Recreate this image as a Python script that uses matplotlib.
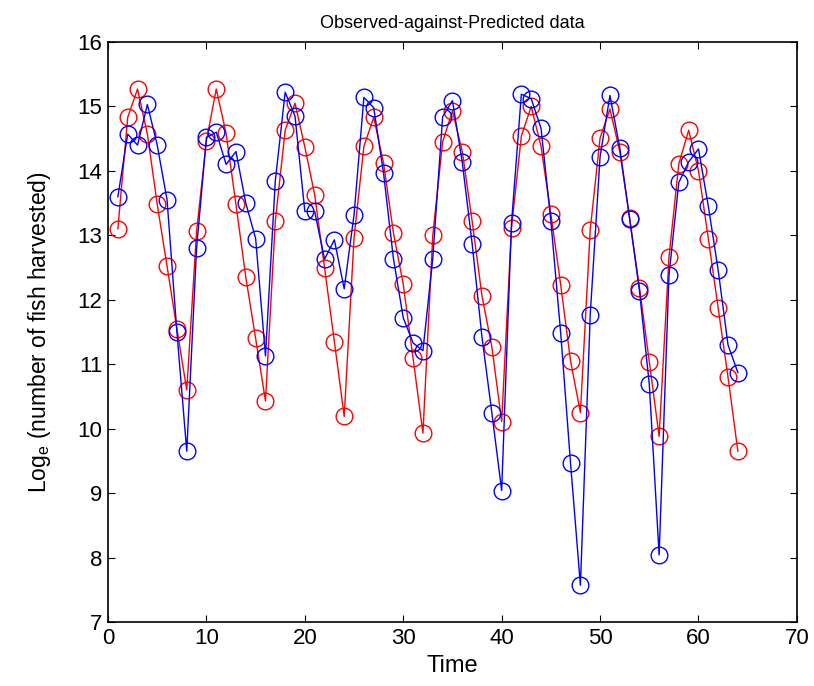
import matplotlib
matplotlib.use("Agg")
import matplotlib.pyplot as plt
from matplotlib import font_manager

fams = {f.name for f in font_manager.fontManager.ttflist}
fam = ['Liberation Sans Narrow', 'Liberation Sans', 'DejaVu Sans'] if 'Liberation Sans Narrow' in fams else ['Liberation Sans', 'DejaVu Sans']
plt.rcParams['font.family'] = fam
plt.rcParams['mathtext.fontset'] = 'custom'
plt.rcParams['mathtext.rm'] = fam[0]

time = list(range(1, 65))
observed = [13.6, 14.57, 14.4, 15.03, 14.4, 13.55, 11.5, 9.65, 12.8, 14.52,
            14.6, 14.1, 14.3, 13.5, 12.95, 11.13, 13.85, 15.22, 14.85, 13.37,
            13.37, 12.63, 12.93, 12.17, 13.32, 15.14, 14.98, 13.96, 12.64, 11.72,
            11.33, 11.21, 12.64, 14.84, 15.09, 14.13, 12.87, 11.42, 10.25, 9.04,
            13.19, 15.19, 15.12, 14.66, 13.22, 11.48, 9.46, 7.57, 11.77, 14.22,
            15.17, 14.36, 13.26, 12.14, 10.69, 8.04, 12.38, 13.82, 14.14, 14.34,
            13.45, 12.46, 11.3, 10.87]
predicted = [13.1, 14.83, 15.27, 14.57, 13.48, 12.52, 11.55, 10.6, 13.06, 14.47,
             15.27, 14.58, 13.48, 12.35, 11.4, 10.43, 13.22, 14.63, 15.05, 14.37,
             13.63, 12.5, 11.35, 10.19, 12.96, 14.38, 14.83, 14.12, 13.04, 12.24,
             11.09, 9.93, 13.0, 14.45, 14.93, 14.3, 13.22, 12.06, 11.27, 10.11,
             13.12, 14.54, 15.0, 14.38, 13.33, 12.23, 11.05, 10.25, 13.09, 14.51,
             14.96, 14.3, 13.27, 12.19, 11.04, 9.88, 12.66, 14.11, 14.63, 14.0,
             12.95, 11.87, 10.8, 9.65]

fig = plt.figure(figsize=(8.14, 6.86), dpi=100)
ax = fig.add_axes([0.1327, 0.0933, 0.8463, 0.8455])
ax.plot(time, predicted, color='red', marker='o', markersize=12, markerfacecolor='none',
        markeredgewidth=1.0, linewidth=1.0)
ax.plot(time, observed, color='blue', marker='o', markersize=12, markerfacecolor='none',
        markeredgewidth=1.0, linewidth=1.0)

ax.set_xlim(0, 70)
ax.set_ylim(7, 16)
ax.set_xticks(range(0, 71, 10))
ax.set_yticks(range(7, 17))
ax.tick_params(direction='in', top=True, right=True, labelsize=16, length=5, width=0.8, pad=4)
for s in ax.spines.values():
    s.set_linewidth(1.2)
ax.set_title('Observed-against-Predicted data', fontsize=13, pad=10)
ax.set_xlabel('Time', fontsize=17, labelpad=5)
ax.set_ylabel(r'Log$_{\mathregular{e}}$ (number of fish harvested)', fontsize=16.5, labelpad=18)

fig.savefig('out.png', dpi=100)
